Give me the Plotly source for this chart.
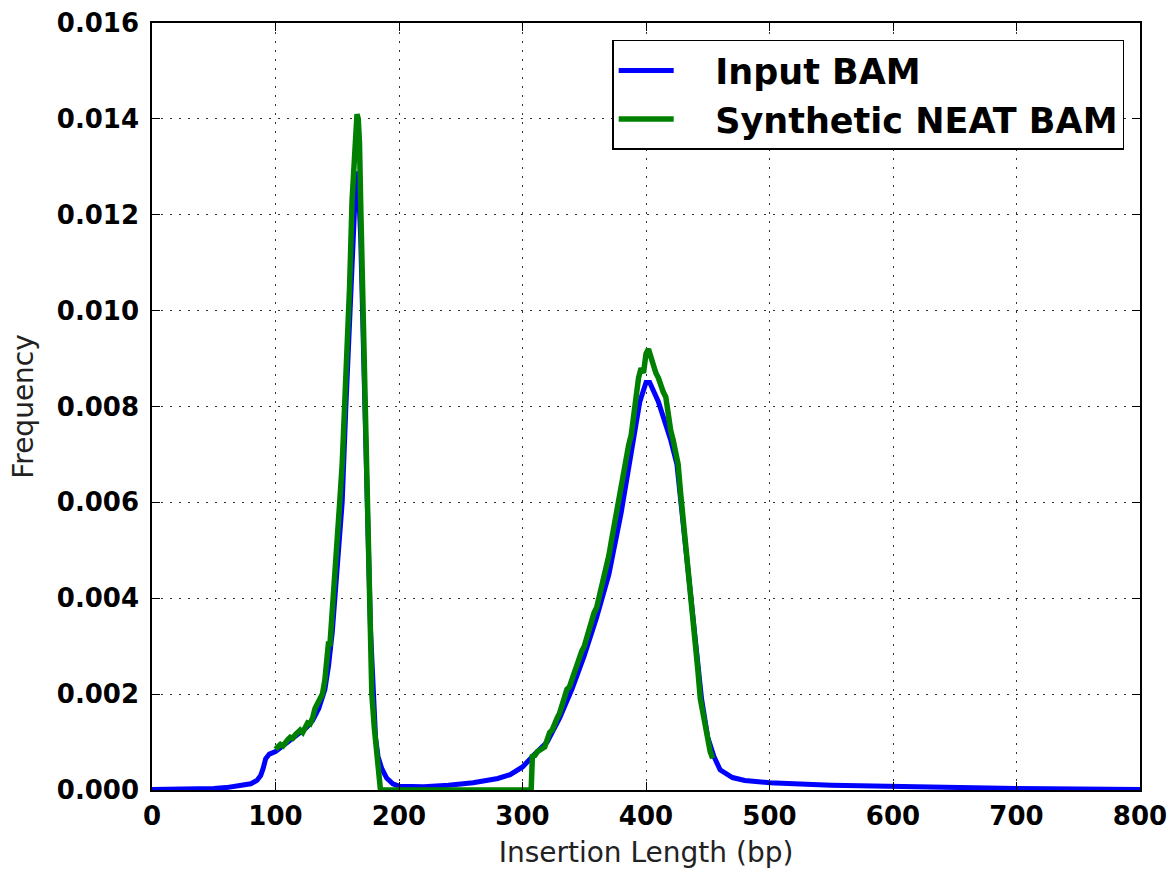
import plotly.graph_objects as go

# Input BAM (blue)
input_x = [0, 20, 40, 50, 60, 70, 80, 85, 88, 90, 92, 95, 100, 105, 110, 115, 120, 125, 130, 135,
           140, 143, 146, 150, 154, 157, 160, 163, 165, 166, 167, 169, 171, 173, 175, 177, 179, 181,
           183, 186, 190, 195, 200, 220, 240, 260, 280, 290, 300, 305, 310, 320, 330, 340, 350, 360,
           370, 380, 390, 395, 400, 403, 410, 420, 425, 430, 435, 440, 445, 450, 455, 460, 470, 480,
           500, 550, 600, 650, 700, 750, 800]
input_y = [0.00001, 0.00001, 0.00002, 0.00003, 0.00005, 0.00008, 0.00013, 0.0002, 0.0003, 0.00045,
           0.00065, 0.00075, 0.0008, 0.0009, 0.001, 0.00108, 0.00118, 0.0013, 0.00145, 0.0017,
           0.0021, 0.0026, 0.0033, 0.0045, 0.006, 0.008, 0.01, 0.012, 0.0127, 0.0129, 0.0127, 0.0115,
           0.0097, 0.0075, 0.0053, 0.0033, 0.0019, 0.0011, 0.0007, 0.00045, 0.00025, 0.00013,
           0.00008, 0.00007, 0.0001, 0.00015, 0.00024, 0.00032, 0.00048, 0.0006, 0.00075, 0.001,
           0.0015, 0.0021, 0.0028, 0.0036, 0.0045, 0.0058, 0.0073, 0.0081, 0.0085, 0.0085, 0.0081,
           0.0073, 0.0068, 0.0056, 0.0042, 0.0031, 0.0019, 0.0011, 0.0007, 0.00042, 0.00026, 0.0002,
           0.00015, 0.0001, 0.00007, 0.00005, 0.00003, 0.00002, 0.00001]

# Synthetic NEAT BAM (green)
neat_x = [100, 102, 104, 106, 108, 110, 112, 114, 116, 118, 120, 122, 124, 126, 128, 130, 132, 134,
          136, 138, 140, 142, 143, 144, 146, 148, 150, 152, 154, 156, 158, 160, 162, 164, 165, 166,
          167, 168, 169, 170, 171, 172, 174, 176, 177, 178, 180, 182, 184, 185, 200, 250, 307, 308,
          310, 312, 315, 318, 320, 322, 324, 326, 328, 330, 332, 334, 336, 338, 340, 342, 344, 346,
          348, 350, 352, 354, 356, 358, 360, 362, 364, 366, 368, 370, 372, 374, 376, 378, 380, 382,
          384, 386, 388, 390, 392, 394, 396, 398, 400, 402, 404, 406, 408, 410, 412, 414, 416, 418,
          420, 422, 424, 426, 428, 430, 432, 434, 436, 438, 440, 442, 444, 446, 448, 450, 452, 454]
neat_y = [0.00085, 0.0009, 0.00095, 0.00092, 0.001, 0.00105, 0.0011, 0.00108, 0.00115, 0.0012,
          0.00125, 0.0012, 0.0013, 0.0014, 0.00138, 0.0015, 0.0017, 0.0018, 0.0019, 0.002, 0.0023,
          0.0028, 0.0031, 0.003, 0.0037, 0.0045, 0.005, 0.006, 0.0068, 0.008, 0.0092, 0.0105, 0.0123,
          0.0133, 0.0139, 0.0141, 0.014, 0.0135, 0.0122, 0.011, 0.0095, 0.0085, 0.0062, 0.0038,
          0.0025, 0.002, 0.0013, 0.00085, 0.0004, 0.0, 0.0, 0.0, 0.0, 0.0007, 0.00072, 0.0008,
          0.00085, 0.0009, 0.00105, 0.0012, 0.00125, 0.0014, 0.0015, 0.0016, 0.00175, 0.0019,
          0.0021, 0.00215, 0.0023, 0.0025, 0.0026, 0.0028, 0.0029, 0.003, 0.0032, 0.0033, 0.0035,
          0.0037, 0.0038, 0.004, 0.0042, 0.0045, 0.0047, 0.0049, 0.0052, 0.0055, 0.0058, 0.006,
          0.0064, 0.0066, 0.007, 0.0072, 0.0074, 0.0079, 0.0082, 0.0086, 0.0088, 0.0087, 0.0091,
          0.0092, 0.009, 0.0089, 0.0087, 0.0086, 0.0084, 0.0083, 0.0082, 0.0078, 0.0075, 0.0073,
          0.007, 0.0068, 0.0062, 0.0057, 0.005, 0.0046, 0.0041, 0.0036, 0.0031, 0.0025, 0.0019,
          0.0016, 0.0013, 0.001, 0.0008, 0.00066]

x_ticks = [0, 100, 200, 300, 400, 500, 600, 700, 800]
y_ticks = [0.000, 0.002, 0.004, 0.006, 0.008, 0.010, 0.012, 0.014, 0.016]

PAD = "\u00a0\u00a0\u00a0"

fig = go.Figure()
fig.add_trace(go.Scatter(x=input_x, y=input_y, mode="lines", name=PAD + "Input BAM",
                         line=dict(color="#0000ff", width=5)))
fig.add_trace(go.Scatter(x=neat_x, y=neat_y, mode="lines", name=PAD + "Synthetic NEAT BAM",
                         line=dict(color="#008000", width=5.5)))

axis_common = dict(
    showline=True, linecolor="black", linewidth=1.5, mirror="allticks",
    ticks="inside", ticklen=8, tickwidth=1.2, tickcolor="black",
    showgrid=True, gridcolor="rgba(0,0,0,0.8)", griddash="2px,7px", gridwidth=1.2,
    zeroline=False, automargin=False,
    tickfont=dict(family="DejaVu Sans", size=26, color="black", weight="bold"),
    title_font=dict(family="DejaVu Sans", size=28, color="#222"),
)

fig.update_xaxes(range=[0, 800], tickvals=x_ticks, title_text="Insertion Length (bp)",
                 ticklabelstandoff=2, **axis_common)
fig.update_yaxes(range=[0, 0.016], tickvals=y_ticks, tickformat=".3f", title_text="Frequency",
                 ticklabelstandoff=6, **axis_common)

fig.update_layout(
    width=1173, height=869,
    margin=dict(l=152, r=33, t=23, b=79),
    plot_bgcolor="white", paper_bgcolor="white",
    legend=dict(x=0.984, y=0.978, xanchor="right", yanchor="top",
                bordercolor="black", borderwidth=1.5, bgcolor="white",
                font=dict(family="DejaVu Sans", size=35, color="black", weight="bold"),
                itemwidth=55, tracegroupgap=0),
    showlegend=True,
)

fig.write_html("out.html")
